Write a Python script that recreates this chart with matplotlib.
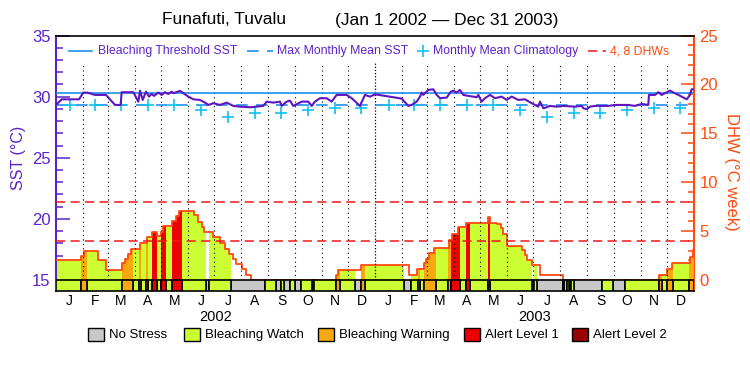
import numpy as np
import matplotlib
matplotlib.use('Agg')
from matplotlib import pyplot as plt
from matplotlib.lines import Line2D
from matplotlib.patches import Rectangle
from matplotlib.ticker import MultipleLocator, FixedLocator

plt.rcParams['font.family'] = ['Liberation Sans', 'DejaVu Sans']

# ---- data (days counted from Jan 1 2002) ----
sst_day = [0, 6.5, 26.3, 31.3, 35.8, 44.6, 57.2, 67.5, 74, 75.1, 88.5, 94.2, 96.1, 99.2, 103,
           106.4, 109.4, 112.1, 117.1, 120.9, 124.7, 128.5, 132.3, 134.2, 141.9, 151.4, 157.1,
           164.8, 171.6, 174.3, 180, 187.6, 195.3, 202.9, 210.5, 222, 229.6, 237.2, 241, 248.7,
           256.3, 258.2, 263.9, 267.7, 271.5, 281.1, 288.7, 292.5, 296.3, 302.1, 309.7, 315.4,
           321.1, 332.6, 338.3, 347.8, 353.5, 359.3, 365,
           395.5, 403.1, 406.9, 412.7, 416.5, 418.4, 420.3, 426, 431.7, 435.6, 439.4, 447,
           451.9, 454.6, 458.4, 462.2, 466, 471.7, 477.5, 481.3, 483.2, 487, 490.8, 496.6,
           502.3, 509.9, 515.6, 521.4, 529, 536.6, 544.3, 551.8, 553.8, 557.6, 561.4, 565.2,
           572.9, 580.5, 593.8, 601.5, 603.4, 607.2, 611, 616.7, 631.9, 639.6, 654.8, 662.5,
           670.2, 677.7, 678.5, 685.4, 689.2, 693, 702.5, 708.2, 712.1, 715.9, 721.6, 725.4,
           727.3, 730]
sst_val = [29.32, 29.78, 29.78, 30.33, 30.33, 30.14, 30.14, 29.32, 29.32, 30.36, 30.36, 29.59,
           30.49, 29.73, 30.41, 30.0, 30.22, 30.06, 30.33, 30.14, 30.36, 30.22, 30.41, 30.28,
           30.47, 30.0, 29.78, 29.73, 29.46, 29.32, 29.46, 29.32, 29.51, 29.24, 29.18, 29.13,
           29.18, 29.24, 29.59, 29.51, 29.59, 29.24, 29.59, 29.67, 29.24, 29.59, 29.59, 29.24,
           29.59, 29.87, 29.87, 29.59, 30.14, 30.14, 29.87, 29.24, 30.14, 30.0, 30.19,
           29.84, 29.24, 29.32, 29.59, 30.0, 30.33, 30.14, 30.55, 30.6, 30.14, 29.87, 29.92,
           30.41, 30.49, 30.33, 30.55, 30.14, 30.06, 30.0, 29.95, 30.14, 29.59, 29.87, 30.14,
           29.87, 30.0, 29.73, 30.0, 29.73, 29.78, 29.46, 29.18, 29.59, 29.05, 29.13, 29.24,
           29.18, 29.24, 29.18, 29.24, 29.05, 28.97, 29.18, 29.24, 29.24, 29.32, 29.32, 29.24,
           29.4, 29.32, 30.14, 30.14, 30.36, 30.14, 30.49, 30.28, 30.14, 30.0, 29.78, 30.14,
           30.6, 30.6]

mmm = 29.3
threshold = 30.3
climatology = [29.3, 29.3, 29.3, 29.3, 29.3, 28.9, 28.35, 28.7, 28.7, 28.9, 29.1, 29.1]

dhw_start = [0, 28.6, 32.4, 48.4, 56.8, 75.1, 79, 82, 85.4, 96.1, 103.7, 110.2, 115.9, 119.8,
             122.8, 133.1, 137.3, 141.1, 158.3, 162.9, 166.7, 169.3, 179.3, 187.6, 193.4, 198.3,
             202.9, 206, 212.4, 217.4, 222.7, 320.4, 323, 348.6, 404.3, 412.7, 421.1, 423.3,
             427.1, 432.5, 449.3, 452.7, 460, 469.1, 494.6, 496.6, 504.2, 508.8, 511.8, 516.4,
             532.8, 536.6, 539.3, 545, 553.8, 579.7, 690.3, 698.7, 704.4, 725.4, 728.5]
dhw_value = [2.0, 2.5, 3.0, 2.0, 1.0, 1.7, 2.1, 2.7, 3.2, 3.8, 4.4, 4.9, 4.5, 4.9, 5.5, 6.0,
             6.5, 7.1, 6.6, 5.95, 5.4, 4.87, 4.4, 3.74, 3.2, 2.65, 2.1, 1.63, 1.09, 0.5, 0,
             0.5, 1.0, 1.53, 0.5, 1.1, 1.7, 2.1, 2.8, 3.3, 4.1, 4.7, 5.4, 5.85, 6.4, 5.85, 5.7,
             5.27, 4.7, 3.5, 3.06, 2.55, 2.04, 1.53, 0.5, 0, 0.5, 1.1, 1.77, 2.38, 3.1]

status_start = [0, 29, 36, 75.5, 87.9, 95.5, 97.8, 103.3, 105.3, 110.4, 116, 119.8, 125.5,
                133.2, 143.8, 171.9, 174.5, 200.5, 238.6, 251.7, 256.9, 261.4, 267.5, 274,
                280, 292.6, 295.2, 320.4, 324.7, 342.1, 348.6, 353.5, 398.2, 405.8, 413.8,
                416.5, 421.4, 434.4, 448.9, 452, 462.2, 469.1, 473.7, 494.6, 496.6, 544.3,
                546.9, 550, 579.7, 581.6, 584.3, 587.3, 589.2, 592.7, 624.4, 637, 651, 690.3,
                693, 698.7, 706.3, 724.6]
status_code = ['W', 'O', 'W', 'O', 'W', 'O', 'W', 'O', 'W', 'R', 'W', 'R', 'W', 'R', 'W',
               'N', 'W', 'N', 'W', 'N', 'W', 'N', 'W', 'N', 'W', 'N', 'W', 'O', 'W', 'N',
               'O', 'W', 'N', 'W', 'O', 'W', 'O', 'W', 'O', 'R', 'W', 'R', 'W', 'R', 'W',
               'N', 'W', 'N', 'W', 'N', 'W', 'N', 'W', 'N', 'W', 'N', 'W', 'O', 'W', 'O',
               'W', 'O']

month_letters = ['J', 'F', 'M', 'A', 'M', 'J', 'J', 'A', 'S', 'O', 'N', 'D'] * 2
years = ['2002', '2003']
legend_names = ['No Stress', 'Bleaching Watch', 'Bleaching Warning', 'Alert Level 1', 'Alert Level 2']

# ---- styles ----
PURPLE = '#5b22c8'
SSTLINE = '#6014c0'
ORANGE = '#ff4a10'
BLUE = '#1e8ef0'
CYAN = '#10c0f0'
DASHRED = '#f01818'
status_color = {'N': '#c8c8c8', 'W': '#ccff33', 'O': '#f8a810', 'R': '#ee0000', 'D': '#990000'}
legend_codes = ['N', 'W', 'O', 'R', 'D']

END = 730.0
YMIN = 14.1


def dhw2sst(d):
    return 15 + np.asarray(d) / 1.25


def sst2dhw(s):
    return (np.asarray(s) - 15) * 1.25


def dhw_at(x):
    i = np.searchsorted(dhw_start, x, side='right') - 1
    return dhw_value[i]


def fx(px):
    return px / 750.0


def fy(py):
    return 1 - py / 375.0


months = np.arange('2002-01', '2004-02', dtype='datetime64[M]')
month_day = (months.astype('datetime64[D]') - np.datetime64('2002-01-01')).astype(float)
mid_month = (month_day[:-1] + month_day[1:]) / 2

fig = plt.figure(figsize=(7.5, 3.75), dpi=100)
ax = fig.add_axes([fx(56), fy(291), 638 / 750, (291 - 35.5) / 375])
ax.set_xlim(0, END)
ax.set_ylim(YMIN, 35)

# DHW fill coloured by daily status
st_end = status_start[1:] + [END]
for a, b, c in zip(status_start, st_end, status_code):
    if c == 'N':
        continue
    xs = [a] + [d for d in dhw_start if a < d < b] + [b]
    ys = [dhw_at(x) for x in xs[:-1]]
    ys.append(ys[-1])
    ax.fill_between(xs, 15, dhw2sst(ys), step='post', color=status_color[c], lw=0, zorder=2)

ax.step(dhw_start + [END], dhw2sst(dhw_value + [dhw_value[-1]]), where='post',
        color=ORANGE, lw=1.3, zorder=3)

# dotted month lines
for d in month_day[1:-1]:
    dense = d == 365
    ax.vlines(d, 15, 32.75, colors='black', lw=0.9 if dense else 0.8,
              linestyles=(0, (1, 1.5)) if dense else (0, (1, 3)), zorder=4)

# DHW 4 and 8 lines
for lvl in [4, 8]:
    ax.axhline(dhw2sst(lvl), color=DASHRED, lw=1.1, dashes=(6, 3.5), zorder=4)

ax.axhline(threshold, color=BLUE, lw=1.2, zorder=5)
ax.axhline(mmm, color=BLUE, lw=1.2, dashes=(7, 5), zorder=5)
ax.plot(mid_month, climatology * 2, ls='none', marker='+', ms=9, mew=1.2, color=CYAN, zorder=6)
ax.plot(sst_day, sst_val, color=SSTLINE, lw=1.5, zorder=7)

# status bar
for c in legend_codes:
    segs = [(a, b - a) for a, b, s in zip(status_start, st_end, status_code) if s == c]
    if segs:
        ax.broken_barh(segs, (YMIN, 15 - YMIN), facecolors=status_color[c],
                       edgecolors='black', linewidth=1.2, zorder=8)

# axes styling
for side in ['top', 'bottom']:
    ax.spines[side].set_color('black')
    ax.spines[side].set_linewidth(1.2)
ax.spines['left'].set_color(PURPLE)
ax.spines['left'].set_linewidth(1.5)
ax.spines['right'].set_visible(False)

ax.yaxis.set_major_locator(MultipleLocator(5))
ax.yaxis.set_minor_locator(MultipleLocator(1))
ax.tick_params(axis='y', which='major', direction='in', length=10, width=1.1,
               colors=PURPLE, labelsize=12, pad=4)
ax.tick_params(axis='y', which='minor', direction='in', length=5, width=1.1, colors=PURPLE)
ax.set_xticks(mid_month)
ax.set_xticklabels(month_letters)
ax.tick_params(axis='x', which='both', length=0, pad=2, labelsize=10)

sec = ax.secondary_yaxis('right', functions=(sst2dhw, dhw2sst))
sec.spines['right'].set_color(ORANGE)
sec.spines['right'].set_linewidth(1.5)
sec.yaxis.set_major_locator(FixedLocator([0, 5, 10, 15, 20, 25]))
sec.yaxis.set_minor_locator(FixedLocator(list(range(26))))
sec.tick_params(axis='y', which='major', direction='in', length=9.5, width=1.1,
                colors=ORANGE, labelsize=12, pad=4)
sec.tick_params(axis='y', which='minor', direction='in', length=4.5, width=1.1, colors=ORANGE)

# titles and axis labels
fig.text(fx(162), fy(20), 'Funafuti, Tuvalu', ha='left', va='center', fontsize=12.5)
fig.text(fx(335), fy(20), '(Jan 1 2002 \u2014 Dec 31 2003)', ha='left', va='center', fontsize=12.5)
fig.text(fx(18), fy(158), 'SST (\u00b0C)', rotation=90, ha='center', va='center',
         color=PURPLE, fontsize=11.5)
fig.text(fx(731), fy(172), 'DHW (\u00b0C week)', rotation=270, ha='center', va='center',
         color=ORANGE, fontsize=12)
for i, yr in enumerate(years):
    fig.text(fx(56 + (month_day[12 * i] + 182.5) * 638 / END), fy(317), yr,
             ha='center', va='center', fontsize=10.5)

# top legend
fig.add_artist(Line2D([fx(69), fx(92)], [fy(51)] * 2, color=BLUE, lw=1.2))
fig.text(fx(98), fy(51), 'Bleaching Threshold SST', color=PURPLE, va='center', fontsize=8.8)
fig.add_artist(Line2D([fx(247), fx(273)], [fy(51)] * 2, color=BLUE, lw=1.2, dashes=(7, 5)))
fig.text(fx(277), fy(51), 'Max Monthly Mean SST', color=PURPLE, va='center', fontsize=8.8)
fig.add_artist(Line2D([fx(422.5)], [fy(51)], color=CYAN, marker='+', ms=9, mew=1.2, ls='none'))
fig.text(fx(433), fy(51), 'Monthly Mean Climatology', color=PURPLE, va='center', fontsize=8.8)
fig.add_artist(Line2D([fx(588), fx(606)], [fy(51)] * 2, color=DASHRED, lw=1.1, dashes=(6, 3.5)))
fig.text(fx(610), fy(51), '4, 8 DHWs', color=ORANGE, va='center', fontsize=8.8)

# bottom legend
box_x = [88, 184, 318, 464, 572]
for bx, c, name in zip(box_x, legend_codes, legend_names):
    fig.add_artist(Rectangle((fx(bx), fy(341)), 16 / 750, 13 / 375,
                             facecolor=status_color[c], edgecolor='black', lw=1.0))
    fig.text(fx(bx + 21), fy(335), name, va='center', fontsize=9.5)

fig.savefig('out.png', dpi=100)
